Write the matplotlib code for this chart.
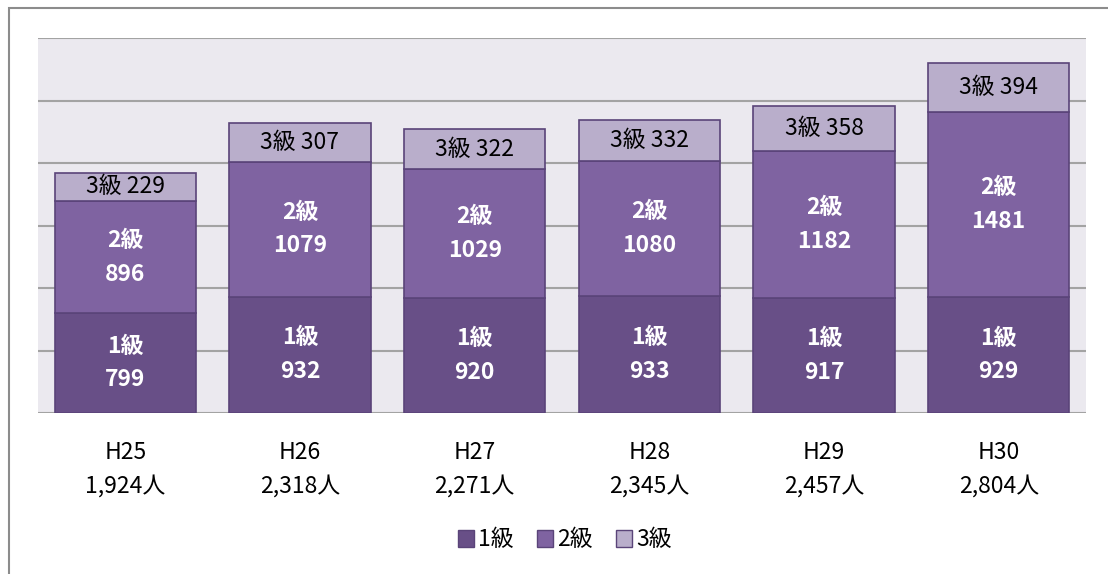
import numpy as np
import matplotlib
matplotlib.use("Agg")
import matplotlib.pyplot as plt
from matplotlib.patches import Rectangle, Patch

plt.rcParams['font.family'] = ['Noto Sans CJK JP', 'DejaVu Sans']

# --- Data ---
years = ["H25", "H26", "H27", "H28", "H29", "H30"]
totals = ["1,924人", "2,318人", "2,271人", "2,345人", "2,457人", "2,804人"]
grade1 = [799, 932, 920, 933, 917, 929]
grade2 = [896, 1079, 1029, 1080, 1182, 1481]
grade3 = [229, 307, 322, 332, 358, 394]
series_names = ["1級", "2級", "3級"]

colors = ["#684f87", "#7f63a1", "#b9aecb"]
edge = "#5a4479"

fig = plt.figure(figsize=(11.08, 5.74), dpi=100)
ax = fig.add_axes([38 / 1108, 1 - 413 / 574, 1048 / 1108, 375 / 574])

# outer chart border (only top/left visible in the reference)
fig.patches.append(Rectangle((9 / 1108, -0.05), 1.2, 1 - 8 / 574 + 0.05,
                             transform=fig.transFigure, fill=False,
                             edgecolor="#8c8c8c", linewidth=1.5))

x = np.arange(len(years))
w = 0.81
ax.bar(x, grade1, w, color=colors[0], edgecolor=edge, linewidth=1.2, zorder=3)
ax.bar(x, grade2, w, bottom=grade1, color=colors[1], edgecolor=edge,
       linewidth=1.2, zorder=3)
bottom3 = np.array(grade1) + np.array(grade2)
ax.bar(x, grade3, w, bottom=bottom3, color=colors[2], edgecolor=edge,
       linewidth=1.2, zorder=3)

# --- Labels inside bars ---
fs = 16.5
for i in range(len(years)):
    ax.text(x[i], grade1[i] / 2, f"1級\n{grade1[i]}", ha="center", va="center",
            color="white", fontsize=fs, fontweight="bold", linespacing=1.6, zorder=4)
    ax.text(x[i], grade1[i] + grade2[i] / 2, f"2級\n{grade2[i]}", ha="center",
            va="center", color="white", fontsize=fs, fontweight="bold",
            linespacing=1.6, zorder=4)
    ax.text(x[i], bottom3[i] + grade3[i] / 2, f"3級 {grade3[i]}", ha="center",
            va="center", color="black", fontsize=fs, zorder=4)

ax.set_facecolor("#ebe9ef")
ax.set_xlim(-0.5, len(years) - 0.5)
ax.set_ylim(0, 3000)
ax.set_yticks(np.arange(0, 3001, 500))
ax.yaxis.grid(True, color="#a3a3a3", linewidth=1.5, zorder=0)
ax.set_yticklabels([])
ax.tick_params(axis="y", length=0)
ax.tick_params(axis="x", length=0, pad=20)
ax.set_xticks(x)
ax.set_xticklabels([f"{y}\n{t}" for y, t in zip(years, totals)], fontsize=fs,
                   linespacing=1.6)
for s in ax.spines.values():
    s.set_visible(False)

handles = [Patch(facecolor=c, edgecolor=edge, label=n) for c, n in zip(colors, series_names)]
fig.legend(handles=handles, loc="center", bbox_to_anchor=(565 / 1108, 1 - 540 / 574),
           ncol=3, frameon=False, fontsize=fs, handlelength=0.7, handleheight=0.7,
           handletextpad=0.2, columnspacing=1.0)

fig.savefig("out.png", dpi=100)
